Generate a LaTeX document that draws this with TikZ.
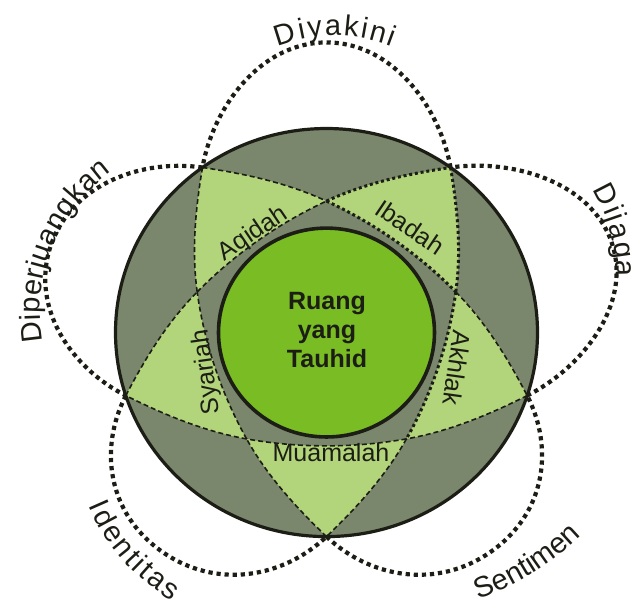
\documentclass[tikz,border=0pt]{standalone}
\usepackage{fontspec}
\setmainfont{Liberation Sans}
\usetikzlibrary{decorations.text}
\definecolor{ring}{RGB}{122,135,108}
\definecolor{leaf}{RGB}{178,212,122}
\definecolor{core}{RGB}{122,188,36}
\definecolor{ink}{RGB}{28,30,22}
\newcommand\rimfont{\fontsize{29}{32}\selectfont}

\begin{document}
\begin{tikzpicture}[x=1pt,y=1pt,yscale=0.967]
\tikzstyle{petal}=[draw=ink,line width=4.2pt,dash pattern=on 4.2pt off 3.9pt]
\tikzstyle{seam}=[draw=ink,line width=1.6pt,dash pattern=on 5pt off 3pt]
\tikzstyle{seamdot}=[draw=ink,line width=3pt,dash pattern=on 3pt off 2.8pt]
\tikzstyle{lbl}=[font=\fontsize{25}{28}\selectfont,text=ink,inner sep=0pt]
\tikzstyle{word}=[decorate,decoration={text along path,text align=fit to path,text color=ink}]
\useasboundingbox (-326.5,-282.8) rectangle (313.5,343.9);
\fill[ring] (0,0) circle[radius=211];
% star points
\foreach \a in {0,72,...,288}
  \fill[leaf,rotate=\a] (0,-211) .. controls (30.6,-180.8) and (59.5,-147.9) .. (79.9,-110)
    .. controls (27.5,-119.6) and (-27.5,-119.6) .. (-79.9,-110)
    .. controls (-59.5,-147.9) and (-30.6,-180.8) .. cycle;
% inner seams, one per star line
\foreach \a/\sa/\sb/\sc in {0/seam/seam/seam,72/seam/seam/seam,144/seamdot/seamdot/seam,216/seam/seamdot/seam,288/seam/seam/seamdot}{
  \begin{scope}[rotate=\a]
  \draw[\sa] (0,-211) .. controls (-30.6,-180.8) and (-59.5,-147.9) .. (-79.9,-110);
  \draw[\sb] (-79.9,-110) .. controls (-105.2,-63.1) and (-122.3,-10.8) .. (-129.3,42);
  \draw[\sc] (-129.3,42) .. controls (-135,84.6) and (-131,128.3) .. (-124,170.7);
  \end{scope}}
% outer petals
\foreach \a/\len in {0/300,72/290,144/280,216/280,288/300}
  \draw[petal,rotate=\a] (124,170.7) .. controls (114.2,229.9) and (68,\len) .. (0,\len)
    .. controls (-68,\len) and (-114.2,229.9) .. (-124,170.7);
\filldraw[fill=core,draw=ink,line width=3.6pt] (0,0) circle[radius=108];
\draw[ink,line width=3.2pt] (0,0) circle[radius=211];
\node[lbl,font=\fontsize{25}{29}\selectfont\bfseries,align=center] (tauhid) at (0.5,3) {Ruang\\yang\\Tauhid};
\node[lbl,rotate=34] (aqidah) at (-73,102) {Aqidah};
\node[lbl,rotate=-34] (ibadah) at (83.5,109.1) {Ibadah};
\node[lbl,rotate=-98] (akhlak) at (130.5,-36.7) {Akhlak};
\node[lbl,rotate=98] (syariah) at (-119.5,-40.8) {Syariah};
\node[lbl] (muamalah) at (4.5,-123.6) {Muamalah};
\path[word,decoration={text={|\rimfont|Diyakini}}] (8.5,155) ++(112:152) arc[start angle=112,end angle=68,radius=152];
\path[word,decoration={text={|\rimfont|Diperjuangkan}}] (-106.5,22.2) ++(190:180) arc[start angle=190,end angle=127,radius=180];
\path[word,decoration={text={|\rimfont|Dijaga}}] (115.5,60.5) ++(30:174) arc[start angle=30,end angle=-1,radius=174];
\path[word,decoration={text={|\rimfont|Identitas}}] (-46.8,-101.8) ++(202:206) arc[start angle=202,end angle=238.5,radius=206];
\path[word,decoration={text={|\rimfont|Sentimen}}] (50.5,-5.8) ++(290.6:289) arc[start angle=290.6,end angle=314.5,radius=289];
\end{tikzpicture}
\end{document}
